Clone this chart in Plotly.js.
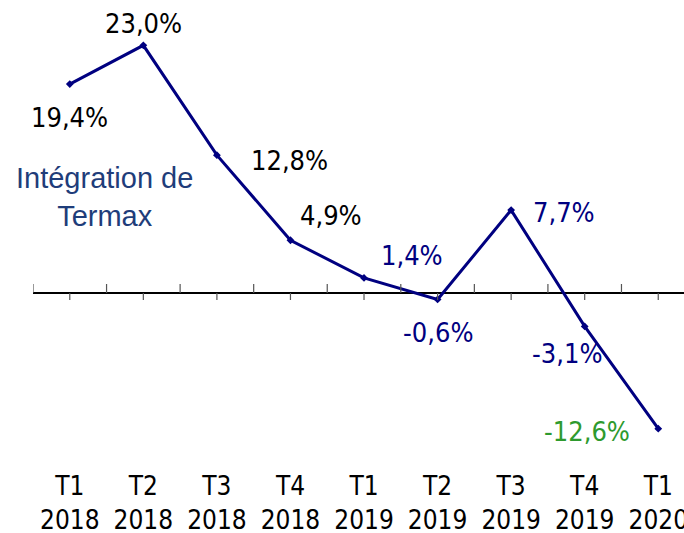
<!DOCTYPE html>
<html>
<head>
<meta charset="utf-8">
<script src="https://cdn.plot.ly/plotly-3.0.1.min.js"></script>
<style>html,body{margin:0;padding:0;background:#fff;}#chart{width:684px;height:533px;}</style>
</head>
<body>
<div id="chart"></div>
<script>
// ---- data ----
const quarters = ['T1', 'T2', 'T3', 'T4', 'T1', 'T2', 'T3', 'T4', 'T1'];
const years = ['2018', '2018', '2018', '2018', '2019', '2019', '2019', '2019', '2020'];
const growth = [19.4, 23.0, 12.8, 4.9, 1.4, -0.6, 7.7, -3.1, -12.6];
const noteText = 'Intégration de<br>Termax';

// ---- styles ----
const labelColors = ['#000000', '#000000', '#000000', '#000000', '#000080', '#000080', '#000080', '#000080', '#2e9a2e'];
const labelShiftX = [0, 0, 73, 41, 48, 0, 53, -18, -71];
const labelShiftY = [-33, 22, -5, 25, 22, -33, -2, -27, -3];
const FONT = 'DejaVu Sans Condensed, DejaVu Sans, sans-serif';

const categories = quarters.map((q, i) => q + '<br>' + years[i]);
const fmt = v => v.toFixed(1).replace('.', ',') + '%';

const trace = {
  type: 'scatter',
  mode: 'lines+markers',
  x: categories,
  y: growth,
  line: {color: '#000080', width: 3},
  marker: {color: '#000080', size: 6, symbol: 'diamond'},
  hoverinfo: 'skip',
  cliponaxis: false
};

const annotations = growth.map((v, i) => ({
  x: i, y: v, xref: 'x', yref: 'y',
  text: fmt(v), showarrow: false,
  xanchor: 'center', yanchor: 'middle',
  xshift: labelShiftX[i], yshift: labelShiftY[i],
  font: {family: FONT, size: 27, color: labelColors[i]}
}));
annotations.push({
  x: 0.47, y: 8.9, xref: 'x', yref: 'y',
  text: noteText, showarrow: false,
  xanchor: 'center', yanchor: 'middle',
  font: {family: 'Liberation Sans, Arial, sans-serif', size: 29, color: '#1f3d7a'}
});

const shapes = [];
categories.forEach((c, i) => {
  shapes.push({type: 'line', xref: 'x', yref: 'y', ysizemode: 'pixel', yanchor: 0,
    x0: i, x1: i, y0: 0, y1: -7, line: {color: '#555', width: 1.2}});
  shapes.push({type: 'line', xref: 'x', yref: 'y', ysizemode: 'pixel', yanchor: 0,
    x0: i - 0.5, x1: i - 0.5, y0: 0, y1: 9, line: {color: '#555', width: 1.2}});
});

const layout = {
  width: 684, height: 533,
  margin: {l: 33, r: 0, t: 10, b: 65},
  paper_bgcolor: '#ffffff', plot_bgcolor: '#ffffff',
  showlegend: false,
  xaxis: {
    type: 'category', range: [-0.5, 8.35],
    showgrid: false, zeroline: false, showline: false, ticks: '',
    tickfont: {family: FONT, size: 26, color: '#000'},
    automargin: false, fixedrange: true
  },
  yaxis: {
    range: [-16.25, 26.28],
    showgrid: false, showticklabels: false, ticks: '', showline: false,
    zeroline: true, zerolinecolor: '#000', zerolinewidth: 1.3,
    automargin: false, fixedrange: true
  },
  annotations: annotations,
  shapes: shapes
};

Plotly.newPlot('chart', [trace], layout, {displayModeBar: false, staticPlot: true});
</script>
</body>
</html>
